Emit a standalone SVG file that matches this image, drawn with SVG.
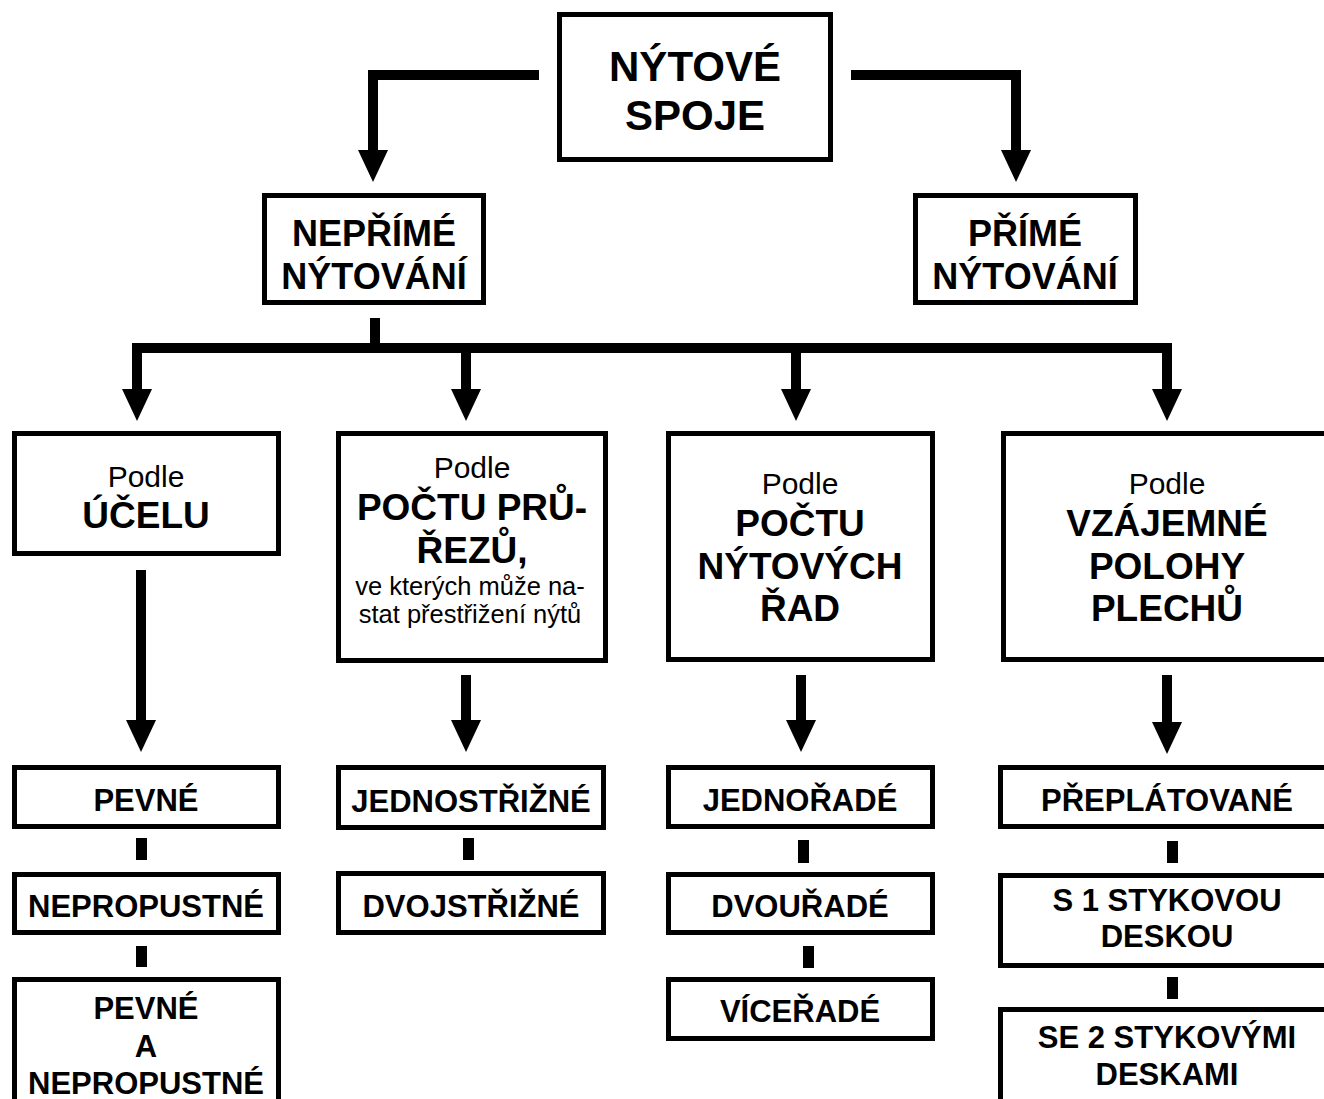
<svg xmlns="http://www.w3.org/2000/svg" width="1324" height="1099" viewBox="0 0 1324 1099">
<style>
.bg{fill:#fff}
.box{fill:#fff;stroke:#000;stroke-width:5}
.ln{fill:none;stroke:#000;stroke-width:10}
.bar{fill:#000}
text{font-family:"Liberation Sans",Arial,sans-serif;fill:#000;text-anchor:middle}
.t1{font-size:42px;font-weight:bold}
.t2{font-size:36px;font-weight:bold}
.pod{font-size:30px}
.t3{font-size:37px;font-weight:bold}
.sm{font-size:25.5px}
.t4{font-size:31px;font-weight:bold}
</style>
<defs>
<marker id="ah" markerUnits="userSpaceOnUse" viewBox="0 0 32 30" markerWidth="32" markerHeight="30" refX="0" refY="15" orient="auto">
<path d="M0,0 L32,15 L0,30 Z" fill="#000"/>
</marker>
</defs>
<rect class="bg" x="0" y="0" width="1324" height="1099"/>
<g id="connectors">
<path class="ln" d="M539,75 H373 V150" marker-end="url(#ah)"/>
<path class="ln" d="M851,75 H1016 V150" marker-end="url(#ah)"/>
<path class="ln" d="M375,318 V348"/>
<path class="ln" d="M132,348 H1172"/>
<path class="ln" d="M137,343 V389" marker-end="url(#ah)"/>
<path class="ln" d="M466,348 V389" marker-end="url(#ah)"/>
<path class="ln" d="M796,348 V389" marker-end="url(#ah)"/>
<path class="ln" d="M1167,343 V389" marker-end="url(#ah)"/>
<path class="ln" d="M141,570 V720" marker-end="url(#ah)"/>
<path class="ln" d="M466,675 V720" marker-end="url(#ah)"/>
<path class="ln" d="M801,675 V720" marker-end="url(#ah)"/>
<path class="ln" d="M1167,675 V722" marker-end="url(#ah)"/>
<rect class="bar" x="136" y="838" width="11" height="22"/>
<rect class="bar" x="136" y="946" width="11" height="21"/>
<rect class="bar" x="463" y="838" width="11" height="22"/>
<rect class="bar" x="798" y="840" width="11" height="23"/>
<rect class="bar" x="803" y="946" width="11" height="22"/>
<rect class="bar" x="1167" y="841" width="11" height="22"/>
<rect class="bar" x="1167" y="977" width="11" height="22"/>
</g>
<g id="n-nytove-spoje">
<rect class="box" x="559.5" y="14.5" width="271" height="145"/>
<text class="t1" x="695" y="81">NÝTOVÉ</text>
<text class="t1" x="695" y="130">SPOJE</text>
</g>
<g id="n-neprime">
<rect class="box" x="264.5" y="195.5" width="219" height="107"/>
<text class="t2" x="374" y="246">NEPŘÍMÉ</text>
<text class="t2" x="374" y="289">NÝTOVÁNÍ</text>
</g>
<g id="n-prime">
<rect class="box" x="915.5" y="195.5" width="220" height="107"/>
<text class="t2" x="1025" y="246">PŘÍMÉ</text>
<text class="t2" x="1025" y="289">NÝTOVÁNÍ</text>
</g>
<g id="n-ucel">
<rect class="box" x="14.5" y="433.5" width="264" height="120"/>
<text class="pod" x="146" y="487">Podle</text>
<text class="t3" x="146" y="528">ÚČELU</text>
</g>
<g id="n-prurezy">
<rect class="box" x="338.5" y="433.5" width="267" height="227"/>
<text class="pod" x="472" y="478">Podle</text>
<text class="t3" x="472" y="520">POČTU PRŮ-</text>
<text class="t3" x="472" y="563">ŘEZŮ,</text>
<text class="sm" x="470" y="595">ve kterých může na-</text>
<text class="sm" x="470" y="623">stat přestřižení nýtů</text>
</g>
<g id="n-rady">
<rect class="box" x="668.5" y="433.5" width="264" height="226"/>
<text class="pod" x="800" y="494">Podle</text>
<text class="t3" x="800" y="536">POČTU</text>
<text class="t3" x="800" y="579">NÝTOVÝCH</text>
<text class="t3" x="800" y="621">ŘAD</text>
</g>
<g id="n-poloha">
<rect class="box" x="1003.5" y="433.5" width="340" height="226"/>
<text class="pod" x="1167" y="494">Podle</text>
<text class="t3" x="1167" y="536">VZÁJEMNÉ</text>
<text class="t3" x="1167" y="579">POLOHY</text>
<text class="t3" x="1167" y="621">PLECHŮ</text>
</g>
<g id="n-pevne">
<rect class="box" x="14.5" y="767.5" width="264" height="59"/>
<text class="t4" x="146" y="811">PEVNÉ</text>
</g>
<g id="n-nepropustne">
<rect class="box" x="14.5" y="874.5" width="264" height="58"/>
<text class="t4" x="146" y="917">NEPROPUSTNÉ</text>
</g>
<g id="n-pevne-a-nepropustne">
<rect class="box" x="14.5" y="979.5" width="264" height="140"/>
<text class="t4" x="146" y="1019">PEVNÉ</text>
<text class="t4" x="146" y="1057">A</text>
<text class="t4" x="146" y="1094">NEPROPUSTNÉ</text>
</g>
<g id="n-jednostrizne">
<rect class="box" x="338.5" y="767.5" width="265" height="60"/>
<text class="t4" x="471" y="812">JEDNOSTŘIŽNÉ</text>
</g>
<g id="n-dvojstrizne">
<rect class="box" x="338.5" y="873.5" width="265" height="59"/>
<text class="t4" x="471" y="917">DVOJSTŘIŽNÉ</text>
</g>
<g id="n-jednorade">
<rect class="box" x="668.5" y="767.5" width="264" height="59"/>
<text class="t4" x="800" y="811">JEDNOŘADÉ</text>
</g>
<g id="n-dvourade">
<rect class="box" x="668.5" y="874.5" width="264" height="58"/>
<text class="t4" x="800" y="917">DVOUŘADÉ</text>
</g>
<g id="n-vicerade">
<rect class="box" x="668.5" y="979.5" width="264" height="59"/>
<text class="t4" x="800" y="1022">VÍCEŘADÉ</text>
</g>
<g id="n-preplatovane">
<rect class="box" x="1000.5" y="767.5" width="340" height="59"/>
<text class="t4" x="1167" y="811">PŘEPLÁTOVANÉ</text>
</g>
<g id="n-s1">
<rect class="box" x="1000.5" y="875.5" width="340" height="90"/>
<text class="t4" x="1167" y="911">S 1 STYKOVOU</text>
<text class="t4" x="1167" y="947">DESKOU</text>
</g>
<g id="n-se2">
<rect class="box" x="1000.5" y="1009.5" width="340" height="110"/>
<text class="t4" x="1167" y="1048">SE 2 STYKOVÝMI</text>
<text class="t4" x="1167" y="1085">DESKAMI</text>
</g>
</svg>
